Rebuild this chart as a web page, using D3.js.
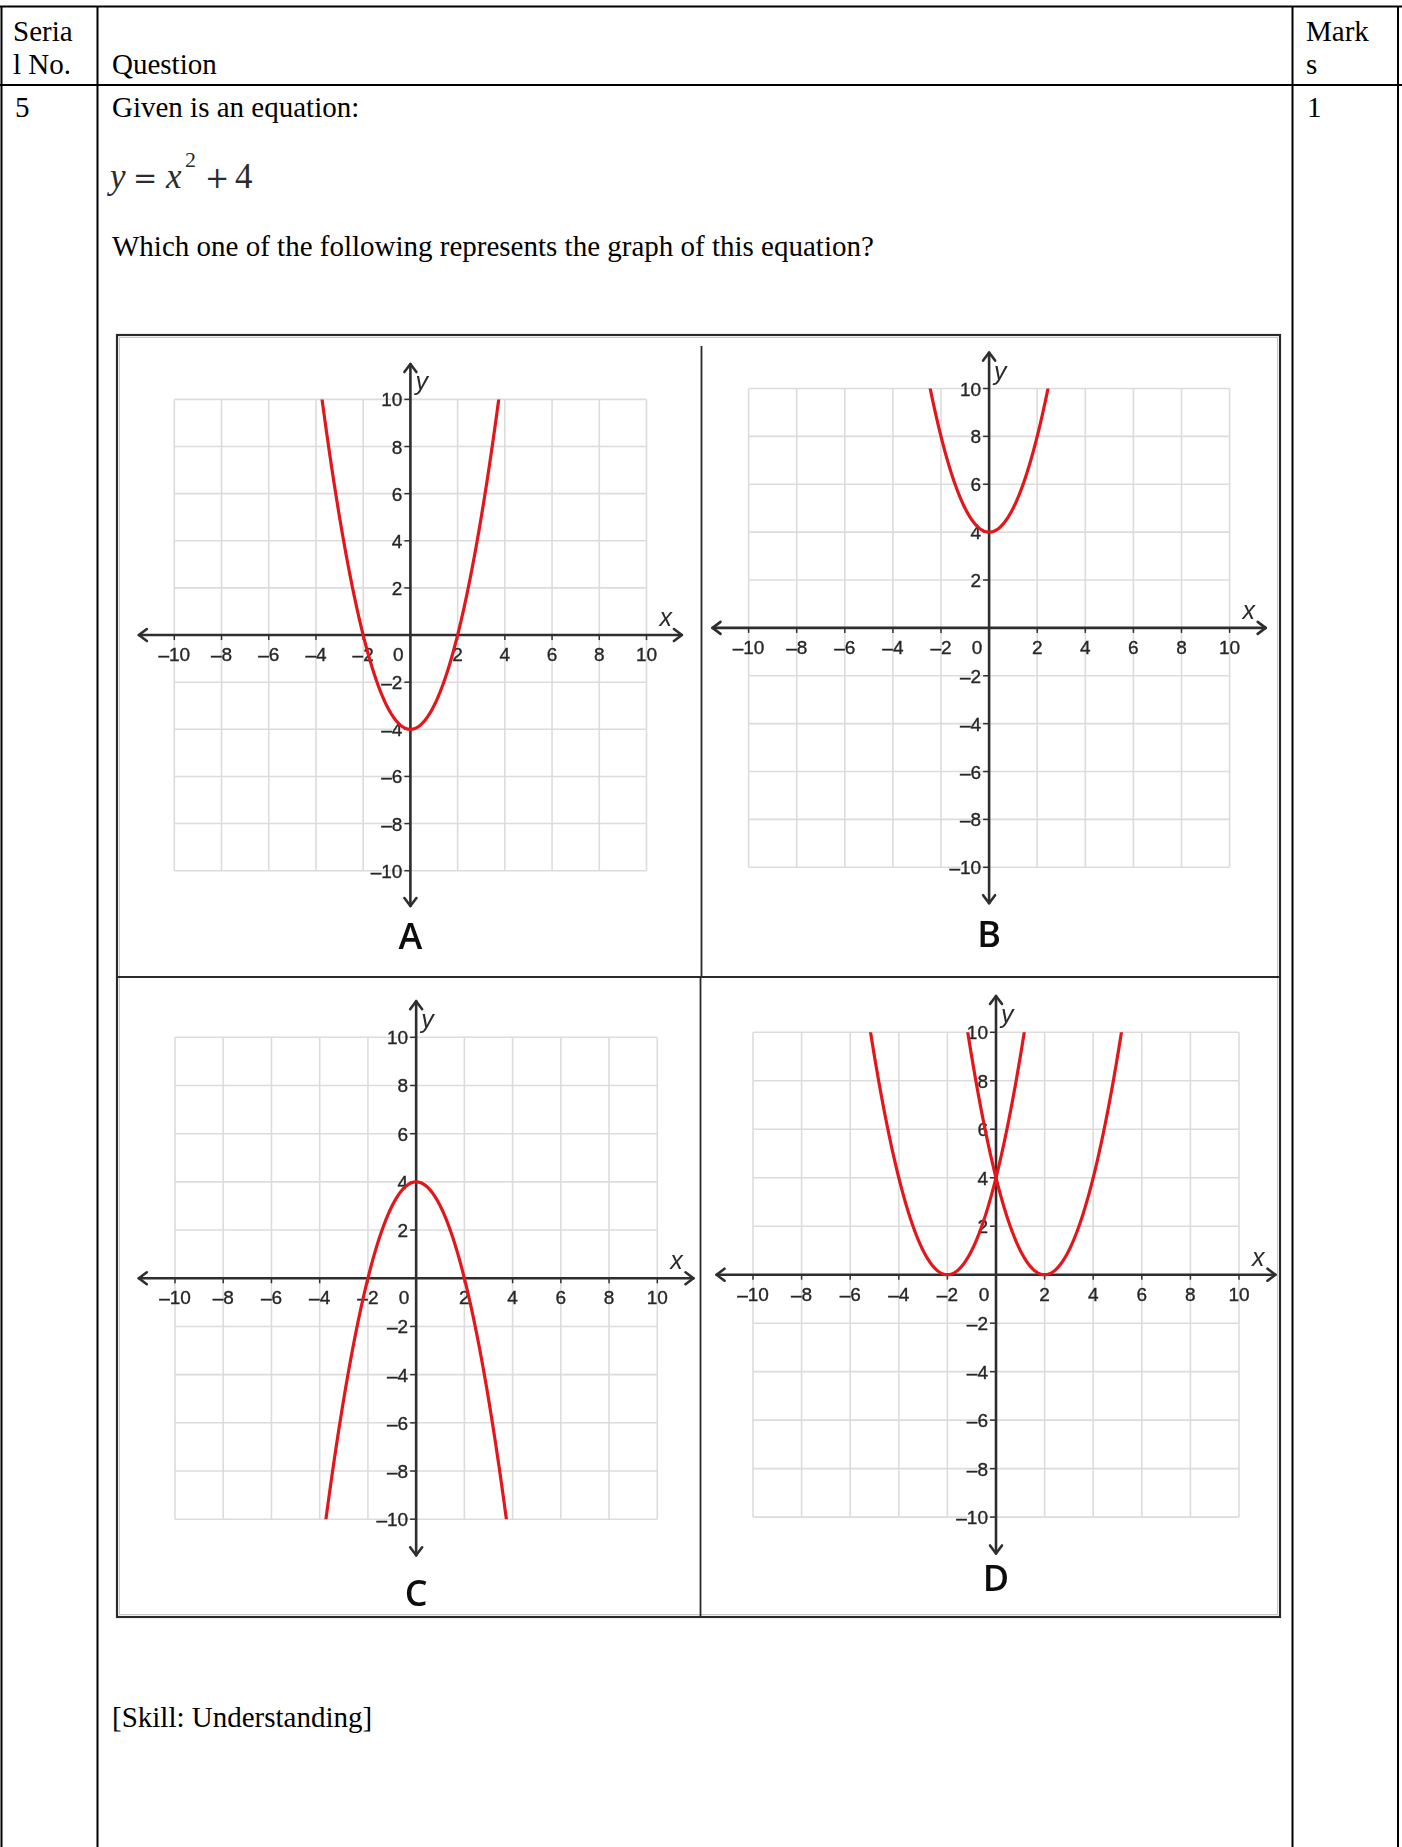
<!DOCTYPE html>
<html>
<head>
<meta charset="utf-8">
<script src="https://cdn.jsdelivr.net/npm/d3@7"></script>
<style>
  html, body { margin: 0; padding: 0; background: #fff; }
  svg { display: block; }
</style>
</head>
<body>
<svg id="page" width="1402" height="1847"></svg>
<script>
// ---- question sheet content ----
const headerLeft = ["Seria", "l No."];
const headerMiddle = "Question";
const headerRight = ["Mark", "s"];
const serialNo = "5";
const marks = "1";
const questionLines = ["Given is an equation:", "Which one of the following represents the graph of this equation?"];
const skillNote = "[Skill: Understanding]";

// ---- answer option graphs ----
const panelNames = ["A", "B", "C", "D"];
const gridValues = [-10, -8, -6, -4, -2, 0, 2, 4, 6, 8, 10];
const tickValues = [-10, -8, -6, -4, -2, 2, 4, 6, 8, 10];
const tickLabels = ["–10", "–8", "–6", "–4", "–2", "2", "4", "6", "8", "10"];
const originLabel = "0";
// each curve is a parabola y = a·(x − h)² + k, drawn in the named panel
const curvePanel = ["A", "B", "C", "D", "D"];
const curveA = [1, 1, -1, 1, 1];
const curveH = [0, 0, 0, -2, 2];
const curveK = [-4, 4, 4, 0, 0];

// ---- layout ----
const W = 1402, H = 1847;
const serif = "'Liberation Serif', 'Times New Roman', serif";
const sans = "'Liberation Sans', Arial, sans-serif";
const textSize = 29;

const panelBox = {
  A: { left: 174.3, right: 646.5, top: 399.4, bottom: 870.7, labelY: 949 },
  B: { left: 748.6, right: 1229.6, top: 388.5, bottom: 867.3, labelY: 947 },
  C: { left: 175.0, right: 657.3, top: 1037.3, bottom: 1519.2, labelY: 1606 },
  D: { left: 753.0, right: 1239.0, top: 1032.3, bottom: 1517.1, labelY: 1591 }
};

const svg = d3.select("#page");
svg.append("rect").attr("width", W).attr("height", H).attr("fill", "#fff");

// soft edge for the embedded graph figure
const defs = svg.append("defs");
defs.append("filter").attr("id", "soft")
  .attr("x", "-5%").attr("y", "-5%").attr("width", "110%").attr("height", "110%")
  .append("feGaussianBlur").attr("stdDeviation", 0.5);

// ---- table frame ----
const table = svg.append("g").attr("stroke", "#000").attr("stroke-width", 2);
[[0, 6.5, W, 6.5], [0, 85, W, 85],
 [1.5, 6.5, 1.5, H], [97.5, 6.5, 97.5, H], [1292.5, 6.5, 1292.5, H], [1398, 6.5, 1398, H]]
  .forEach(([x1, y1, x2, y2]) => table.append("line")
    .attr("x1", x1).attr("y1", y1).attr("x2", x2).attr("y2", y2));

const txt = svg.append("g").attr("font-family", serif).attr("font-size", textSize).attr("fill", "#000");
headerLeft.forEach((t, i) => txt.append("text").attr("x", 13).attr("y", 41 + i * 32.5).text(t));
txt.append("text").attr("x", 112).attr("y", 73.5).text(headerMiddle);
headerRight.forEach((t, i) => txt.append("text").attr("x", 1306).attr("y", 41 + i * 32.5).text(t));
txt.append("text").attr("x", 15).attr("y", 117).text(serialNo);
txt.append("text").attr("x", 1307).attr("y", 117).text(marks);
txt.append("text").attr("x", 112).attr("y", 117).text(questionLines[0]);
txt.append("text").attr("x", 112).attr("y", 256).text(questionLines[1]);
txt.append("text").attr("x", 112).attr("y", 1727).text(skillNote);

// equation y = x² + 4, typeset glyph by glyph
const eq = svg.append("g").attr("fill", "#2b2b2b");
const eqItalic = { "font-family": serif, "font-style": "italic", "font-size": 35 };
const eqOp = { "font-family": "'DejaVu Serif', serif", "font-size": 29 };
const eqNum = { "font-family": serif, "font-size": 35 };
[
  ["y", 110, 188, eqItalic],
  ["=", 133, 188, eqOp],
  ["x", 166, 188, eqItalic],
  ["2", 185, 167, { "font-family": serif, "font-size": 22 }],
  ["+", 205, 188, eqOp],
  ["4", 235, 188, eqNum]
].forEach(([t, gx, gy, st]) => {
  const el = eq.append("text").attr("x", gx).attr("y", gy).text(t);
  Object.entries(st).forEach(([k, v]) => el.attr(k, v));
});

// ---- figure with the four option graphs ----
const fig = svg.append("g").attr("filter", "url(#soft)");

// frame: dark outline with a faint inner shade
fig.append("rect").attr("x", 117).attr("y", 335).attr("width", 1163).attr("height", 1282)
  .attr("fill", "none").attr("stroke", "#2a2a2a").attr("stroke-width", 2.2);
fig.append("rect").attr("x", 119.5).attr("y", 337.5).attr("width", 1158).attr("height", 1277)
  .attr("fill", "none").attr("stroke", "#c8c8c8").attr("stroke-width", 1);
fig.append("line").attr("x1", 117).attr("x2", 1280).attr("y1", 977).attr("y2", 977)
  .attr("stroke", "#2a2a2a").attr("stroke-width", 2);
fig.append("line").attr("x1", 701.5).attr("x2", 701.5).attr("y1", 346).attr("y2", 977)
  .attr("stroke", "#2a2a2a").attr("stroke-width", 1.8);
fig.append("line").attr("x1", 700.5).attr("x2", 700.5).attr("y1", 977).attr("y2", 1617)
  .attr("stroke", "#2a2a2a").attr("stroke-width", 1.8);

const curves = curvePanel.map((p, i) => ({ panel: p, a: curveA[i], h: curveH[i], k: curveK[i] }));

panelNames.forEach(name => {
  const b = panelBox[name];
  const x = d3.scaleLinear().domain([-10, 10]).range([b.left, b.right]);
  const y = d3.scaleLinear().domain([-10, 10]).range([b.bottom, b.top]);
  const g = fig.append("g");
  const x0 = x(0), y0 = y(0);

  // grid
  const grid = g.append("g").attr("stroke", "#dcdcdc").attr("stroke-width", 1.6);
  grid.selectAll(".gv").data(gridValues).join("line")
    .attr("x1", d => x(d)).attr("x2", d => x(d)).attr("y1", y(10)).attr("y2", y(-10));
  grid.selectAll(".gh").data(gridValues).join("line")
    .attr("y1", d => y(d)).attr("y2", d => y(d)).attr("x1", x(-10)).attr("x2", x(10));

  // axes with arrow heads at both ends
  const axis = g.append("g").attr("stroke", "#2e2e2e").attr("stroke-width", 2.6)
    .attr("fill", "none").attr("stroke-linecap", "round").attr("stroke-linejoin", "round");
  const xl = x(-11.5), xr = x(11.5), yt = y(11.5), yb = y(-11.5);
  axis.append("line").attr("x1", xl).attr("x2", xr).attr("y1", y0).attr("y2", y0);
  axis.append("line").attr("x1", x0).attr("x2", x0).attr("y1", yt).attr("y2", yb);
  const head = 8, half = 6;
  axis.append("polyline").attr("points", `${xr - head},${y0 - half} ${xr},${y0} ${xr - head},${y0 + half}`);
  axis.append("polyline").attr("points", `${xl + head},${y0 - half} ${xl},${y0} ${xl + head},${y0 + half}`);
  axis.append("polyline").attr("points", `${x0 - half},${yt + head} ${x0},${yt} ${x0 + half},${yt + head}`);
  axis.append("polyline").attr("points", `${x0 - half},${yb - head} ${x0},${yb} ${x0 + half},${yb - head}`);

  // ticks
  const ticks = g.append("g").attr("stroke", "#333").attr("stroke-width", 1.5);
  ticks.selectAll(".tx").data(tickValues).join("line")
    .attr("x1", d => x(d)).attr("x2", d => x(d)).attr("y1", y0).attr("y2", y0 + 5);
  ticks.selectAll(".ty").data(tickValues).join("line")
    .attr("y1", d => y(d)).attr("y2", d => y(d)).attr("x1", x0 - 6).attr("x2", x0);

  // tick labels
  const lab = g.append("g").attr("font-family", sans).attr("font-size", 19)
    .attr("fill", "#262626").attr("stroke", "#262626").attr("stroke-width", 0.35);
  lab.selectAll(".lx").data(tickValues).join("text")
    .attr("x", d => x(d)).attr("y", y0 + 26).attr("text-anchor", "middle")
    .text((d, i) => tickLabels[i]);
  lab.selectAll(".ly").data(tickValues).join("text")
    .attr("x", x0 - 8).attr("y", d => y(d) + 7).attr("text-anchor", "end")
    .text((d, i) => tickLabels[i]);
  lab.append("text").attr("x", x0 - 12).attr("y", y0 + 26).attr("text-anchor", "middle").text(originLabel);

  // axis names
  const an = g.append("g").attr("font-family", sans).attr("font-style", "italic")
    .attr("font-size", 25).attr("fill", "#2a2a2a");
  an.append("text").attr("x", x0 + 5).attr("y", y(10) - 9).text("y");
  an.append("text").attr("x", x(10) + 13).attr("y", y0 - 9).text("x");

  // curves, clipped to the gridded square
  const clipId = "clip" + name;
  defs.append("clipPath").attr("id", clipId).append("rect")
    .attr("x", x(-10)).attr("y", y(10)).attr("width", x(10) - x(-10)).attr("height", y(-10) - y(10));
  const line = d3.line().x(d => x(d[0])).y(d => y(d[1]));
  const xs = d3.range(-10, 10.0001, 0.02);
  g.append("g").attr("clip-path", `url(#${clipId})`)
    .selectAll("path").data(curves.filter(c => c.panel === name)).join("path")
    .attr("d", c => line(xs.map(v => [v, c.a * (v - c.h) * (v - c.h) + c.k]).filter(p => p[1] > -12 && p[1] < 12)))
    .attr("fill", "none").attr("stroke", "#e3161c").attr("stroke-width", 3.2);

  // option letter
  g.append("text").attr("x", x0).attr("y", b.labelY).attr("text-anchor", "middle")
    .attr("font-family", "'Open Sans', Lato, sans-serif").attr("font-weight", 600)
    .attr("font-size", 36).attr("fill", "#111")
    .text(name);
});
</script>
</body>
</html>
